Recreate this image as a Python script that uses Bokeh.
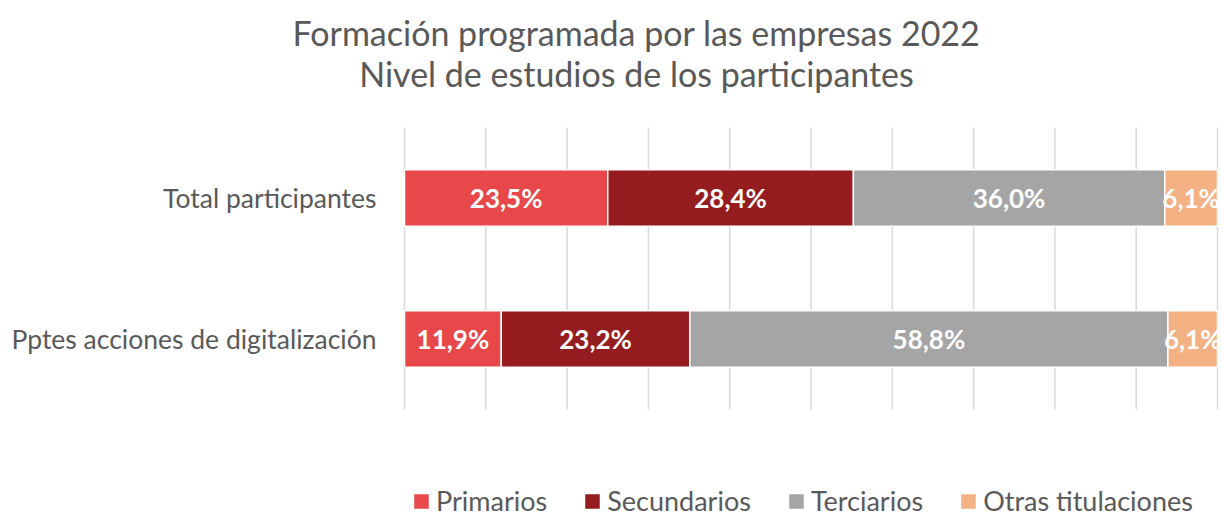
from bokeh.plotting import figure
from bokeh.models import ColumnDataSource, Range1d, Label, Legend, LegendItem
from bokeh.core.properties import value
from bokeh.embed import file_html
from bokeh.resources import INLINE

# ---------------- data ----------------
categories = ["Total participantes", "Pptes acciones de digitalización"]
series = ["Primarios", "Secundarios", "Terciarios", "Otras titulaciones"]
primarios = [23.5, 11.9]
secundarios = [28.4, 23.2]
terciarios = [36.0, 58.8]
otras = [6.1, 6.1]
grid_ticks = [0.0, 0.1, 0.2, 0.3, 0.4, 0.5, 0.6, 0.7, 0.8, 0.9, 1.0]
colors = ["#E8484A", "#951C1F", "#A5A5A5", "#F4B183"]
title_lines = ["Formación programada por las empresas 2022", "Nivel de estudios de los participantes"]

# ---------------- layout constants (pixels) ----------------
W, H = 1222, 517
PX0, PX1 = 404, 1217      # 0 % and 100 %
PY_TOP, PY_BOT = 127, 409  # plot area top / bottom
FONT = "Lato"
TXT = "#595959"

n = len(categories)
xs = PX1 - PX0
ys = (PY_BOT - PY_TOP) / n
x_range = Range1d(-PX0 / xs, 1 + (W - PX1) / xs)
y_range = Range1d(-0.5 - (H - PY_BOT) / ys, (n - 0.5) + PY_TOP / ys)

rows = [primarios, secundarios, terciarios, otras]
keys = ["s0", "s1", "s2", "s3"]
totals = [sum(r[i] for r in rows) for i in range(n)]
ypos = [n - 1 - i for i in range(n)]
data = {"y": ypos}
for k, r in zip(keys, rows):
    data[k] = [v / t for v, t in zip(r, totals)]
src = ColumnDataSource(data)

p = figure(width=W, height=H, output_backend="svg", toolbar_location=None,
           x_range=x_range, y_range=y_range, title=None,
           min_border=0, min_border_left=0, min_border_right=0,
           min_border_top=0, min_border_bottom=0)
p.outline_line_color = None
p.axis.visible = False
p.grid.visible = False

# vertical gridlines
p.segment(x0=grid_ticks, x1=grid_ticks, y0=[-0.5] * len(grid_ticks),
          y1=[n - 0.5] * len(grid_ticks), line_color="#D9D9D9", line_width=1.5)

renderers = p.hbar_stack(keys, y="y", height=0.4, color=colors, line_color="white",
                         line_width=1.5, source=src)

# data labels
lx, ly, lt = [], [], []
for i in range(n):
    cum = 0.0
    for k, r in zip(keys, rows):
        share = data[k][i]
        lx.append(cum + share / 2)
        ly.append(ypos[i])
        lt.append(f"{r[i]:.1f}".replace(".", ",") + "%")
        cum += share
p.text(x="x", y="y", text="t", source=ColumnDataSource(dict(x=lx, y=ly, t=lt)),
       text_align="center", text_baseline="middle", text_color="white",
       text_font=value(FONT), text_font_style="bold", text_font_size="26px")

# category labels
p.text(x=[0] * n, y=ypos, text=categories, x_offset=-28, text_align="right",
       text_baseline="middle", text_color=TXT, text_font=value(FONT),
       text_font_size="26.5px")

# titles
for txt, cy in zip(title_lines, [32, 73]):
    p.add_layout(Label(x=636, y=H - cy, x_units="screen", y_units="screen", text=txt,
                       text_align="center", text_baseline="middle", text_font=FONT,
                       text_font_size="34px", text_color=TXT))

legend = Legend(items=[LegendItem(label=s, renderers=[r]) for s, r in zip(series, renderers)],
                orientation="horizontal", location=(411, 0), padding=0, margin=0,
                spacing=35, label_standoff=5, glyph_width=20, glyph_height=20,
                label_height=30, label_text_font=FONT, label_text_font_size="27px",
                label_text_color=TXT, border_line_color=None, background_fill_alpha=0)
p.add_layout(legend, "center")

open("out.html", "w").write(file_html(p, INLINE))
